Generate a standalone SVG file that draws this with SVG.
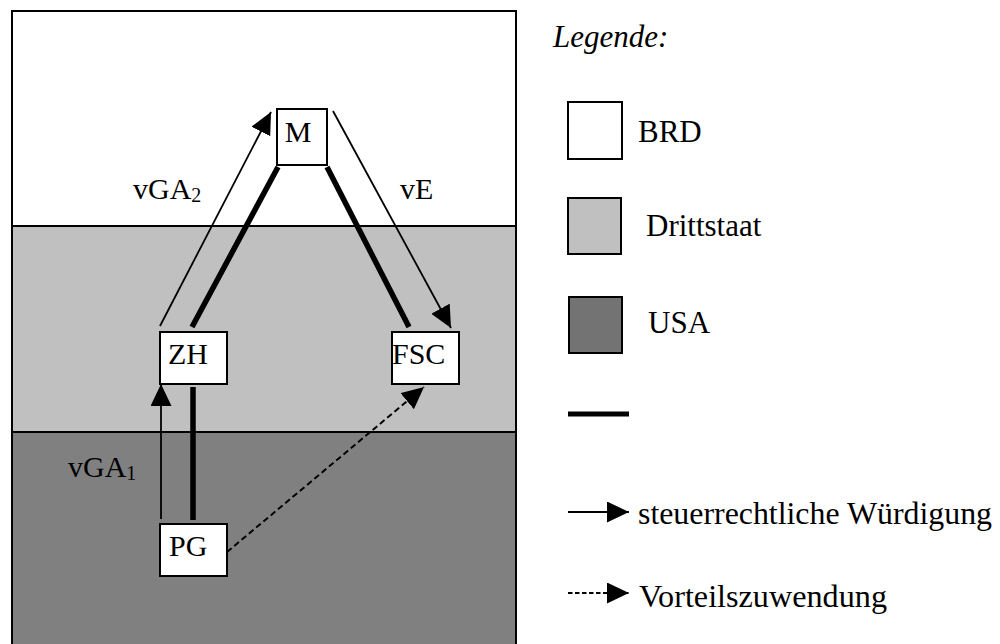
<svg xmlns="http://www.w3.org/2000/svg" width="1000" height="644" viewBox="0 0 1000 644">
  <style>
    text { font-family: "Liberation Serif", "Times New Roman", serif; font-size: 30px; fill: #000; }
    .lbl { font-size: 31px; }
    .sub { font-size: 20px; }
    .box { fill: #fff; stroke: #000; stroke-width: 2; }
    .thin { stroke: #000; stroke-width: 1.8; fill: none; }
    .thick { stroke: #000; stroke-width: 5.5; fill: none; }
    .dash { stroke: #000; stroke-width: 2; fill: none; stroke-dasharray: 6 3.5; }
    .border { stroke: #000; stroke-width: 2; fill: none; }
  </style>
  <defs>
    <marker id="arrow" markerUnits="userSpaceOnUse" markerWidth="24" markerHeight="22" refX="22" refY="10.5" orient="auto">
      <path d="M0,0 L22,10.5 L0,21 z" fill="#000"/>
    </marker>
  </defs>

  <rect width="1000" height="644" fill="#fff"/>

  <!-- country bands -->
  <g id="regions">
    <rect x="12" y="11" width="504" height="215" fill="#fff"/>
    <rect x="12" y="226" width="504" height="206" fill="#c0c0c0"/>
    <rect x="12" y="432" width="504" height="220" fill="#808080"/>
    <path class="border" d="M12,650 V11 H516 V650 M12,226 H516 M12,432 H516"/>
  </g>

  <!-- relations between the companies -->
  <g id="connectors">
    <line class="thick" x1="192" y1="327" x2="278" y2="167"/>
    <line class="thick" x1="327" y1="167" x2="409" y2="327"/>
    <line class="thick" x1="193" y1="387" x2="193" y2="520"/>
    <line class="thin" x1="160" y1="326" x2="271" y2="112" marker-end="url(#arrow)"/>
    <line class="thin" x1="333" y1="111" x2="451" y2="328" marker-end="url(#arrow)"/>
    <line class="thin" x1="161" y1="519" x2="161" y2="384" marker-end="url(#arrow)"/>
    <line class="dash" x1="227" y1="552" x2="424" y2="387" marker-end="url(#arrow)"/>
  </g>

  <!-- edge labels -->
  <g id="edge-labels">
    <text x="133" y="199">vGA<tspan class="sub" dy="3">2</tspan></text>
    <text x="400" y="199">vE</text>
    <text x="68" y="477">vGA<tspan class="sub" dy="3">1</tspan></text>
  </g>

  <g id="node-M">
    <rect class="box" x="277" y="109" width="50" height="56"/>
    <text x="298" y="142" text-anchor="middle">M</text>
  </g>
  <g id="node-ZH">
    <rect class="box" x="160" y="332" width="67" height="52"/>
    <text x="168" y="364">ZH</text>
  </g>
  <g id="node-FSC">
    <rect class="box" x="392" y="332" width="67" height="52"/>
    <text x="392" y="364">FSC</text>
  </g>
  <g id="node-PG">
    <rect class="box" x="160" y="524" width="67" height="52"/>
    <text x="169" y="556">PG</text>
  </g>

  <!-- legend -->
  <g id="legend">
    <text class="lbl" x="553" y="47" font-style="italic">Legende:</text>
    <rect class="box" x="568" y="102" width="54" height="57"/>
    <text class="lbl" x="638" y="142">BRD</text>
    <rect class="box" x="568" y="198" width="53" height="56" style="fill:#c0c0c0"/>
    <text class="lbl" x="646" y="236">Drittstaat</text>
    <rect class="box" x="569" y="297" width="53" height="56" style="fill:#737373"/>
    <text class="lbl" x="648" y="333">USA</text>
    <line class="thick" x1="568" y1="414" x2="629" y2="414" style="stroke-width:5"/>
    <line class="thin" x1="568" y1="512" x2="629" y2="512" marker-end="url(#arrow)"/>
    <text class="lbl" x="638" y="524" textLength="354" lengthAdjust="spacingAndGlyphs">steuerrechtliche Würdigung</text>
    <line class="dash" x1="568" y1="593" x2="629" y2="593" style="stroke-dasharray:4.5 2.5" marker-end="url(#arrow)"/>
    <text class="lbl" x="639" y="607" textLength="248" lengthAdjust="spacingAndGlyphs">Vorteilszuwendung</text>
  </g>
</svg>
